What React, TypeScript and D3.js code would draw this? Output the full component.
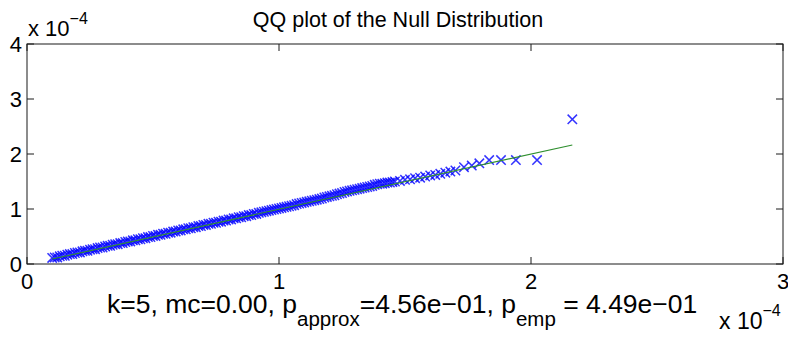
import { useEffect, useRef } from 'react'
import * as d3 from 'd3'

// theoretical quantiles (x 1e-4) and sample quantiles (x 1e-4)
const qTheory = [
  0.10, 0.11, 0.12, 0.13, 0.14, 0.15, 0.16, 0.17, 0.18, 0.19,
  0.20, 0.21, 0.22, 0.23, 0.24, 0.25, 0.26, 0.27, 0.28, 0.29,
  0.30, 0.31, 0.32, 0.33, 0.34, 0.35, 0.36, 0.37, 0.38, 0.39,
  0.40, 0.41, 0.42, 0.43, 0.44, 0.45, 0.46, 0.47, 0.48, 0.49,
  0.50, 0.51, 0.52, 0.53, 0.54, 0.55, 0.56, 0.57, 0.58, 0.59,
  0.60, 0.61, 0.62, 0.63, 0.64, 0.65, 0.66, 0.67, 0.68, 0.69,
  0.70, 0.71, 0.72, 0.73, 0.74, 0.75, 0.76, 0.77, 0.78, 0.79,
  0.80, 0.81, 0.82, 0.83, 0.84, 0.85, 0.86, 0.87, 0.88, 0.89,
  0.90, 0.91, 0.92, 0.93, 0.94, 0.95, 0.96, 0.97, 0.98, 0.99,
  1.00, 1.01, 1.02, 1.03, 1.04, 1.05, 1.06, 1.07, 1.08, 1.09,
  1.10, 1.11, 1.12, 1.13, 1.14, 1.15, 1.16, 1.17, 1.18, 1.19,
  1.20, 1.21, 1.22, 1.23, 1.24, 1.25, 1.26, 1.27, 1.28, 1.29,
  1.30, 1.31, 1.32, 1.33, 1.34, 1.35, 1.36, 1.37, 1.38, 1.39,
  1.40, 1.41, 1.42, 1.43, 1.44, 1.45, 1.46,
  1.48, 1.50, 1.52, 1.54, 1.56, 1.58, 1.60, 1.62, 1.64, 1.66,
  1.68, 1.70, 1.734, 1.765, 1.795, 1.834, 1.881, 1.940, 2.024, 2.164,
]
const qSample = [
  0.11, 0.12, 0.12, 0.14, 0.15, 0.15, 0.17, 0.18, 0.18, 0.20,
  0.21, 0.21, 0.23, 0.24, 0.24, 0.26, 0.27, 0.27, 0.29, 0.30,
  0.30, 0.32, 0.33, 0.33, 0.35, 0.36, 0.36, 0.38, 0.38, 0.40,
  0.41, 0.41, 0.43, 0.43, 0.45, 0.45, 0.47, 0.47, 0.49, 0.49,
  0.51, 0.51, 0.53, 0.53, 0.55, 0.55, 0.57, 0.57, 0.59, 0.59,
  0.61, 0.61, 0.63, 0.63, 0.65, 0.65, 0.67, 0.67, 0.69, 0.69,
  0.71, 0.71, 0.73, 0.73, 0.75, 0.75, 0.77, 0.77, 0.79, 0.79,
  0.81, 0.81, 0.83, 0.83, 0.85, 0.85, 0.87, 0.87, 0.89, 0.89,
  0.91, 0.91, 0.93, 0.94, 0.95, 0.96, 0.97, 0.98, 0.99, 1.00,
  1.01, 1.02, 1.03, 1.04, 1.05, 1.06, 1.07, 1.09, 1.10, 1.11,
  1.12, 1.13, 1.14, 1.15, 1.16, 1.17, 1.18, 1.19, 1.21, 1.22,
  1.23, 1.24, 1.25, 1.27, 1.28, 1.29, 1.31, 1.32, 1.33, 1.34,
  1.35, 1.36, 1.37, 1.38, 1.39, 1.40, 1.41, 1.42, 1.44, 1.45,
  1.46, 1.46, 1.47, 1.48, 1.48, 1.49, 1.50,
  1.51, 1.53, 1.54, 1.56, 1.57, 1.59, 1.61, 1.62, 1.64, 1.66,
  1.68, 1.70, 1.76, 1.79, 1.83, 1.89, 1.89, 1.89, 1.89, 2.63,
]
// reference line (x 1e-4)
const fitX = [0.10, 2.164]
const fitY = [0.09, 2.164]

const xTicks = [0, 1, 2, 3]
const yTicks = [0, 1, 2, 3, 4]

const W = 788
const H = 339
const BOX = { l: 27, r: 783, t: 44, b: 264 }
const FONT = '"Liberation Sans", Arial, Helvetica, sans-serif'

export default function App() {
  const svgRef = useRef<SVGSVGElement>(null)

  useEffect(() => {
    const svg = d3.select(svgRef.current)
    svg.selectAll('*').remove()
    svg.attr('width', W).attr('height', H)
    svg.append('rect').attr('width', W).attr('height', H).attr('fill', '#fff')

    const xSc = d3.scaleLinear().domain([0, 3]).range([BOX.l, BOX.r])
    const ySc = d3.scaleLinear().domain([0, 4]).range([BOX.b, BOX.t])

    // markers
    const pts = qTheory.map((x, i) => ({ x, y: qSample[i] }))
    const m = svg.append('g').attr('stroke', '#0000ff').attr('stroke-width', 1.5).attr('stroke-opacity', 0.8)
    const s = 4.7
    pts.forEach((p) => {
      const cx = xSc(p.x), cy = ySc(p.y)
      m.append('path').attr('d', `M${cx - s},${cy - s}L${cx + s},${cy + s}M${cx - s},${cy + s}L${cx + s},${cy - s}`)
    })

    // fitted line
    const line = d3.line<number>().x((d) => xSc(d)).y((_, i) => ySc(fitY[i]))
    svg.append('path').datum(fitX).attr('d', line).attr('fill', 'none').attr('stroke', '#2f8f2f').attr('stroke-width', 1.1)

    // box + ticks
    const ax = svg.append('g').attr('stroke', '#1a1a1a').attr('stroke-width', 1)
    ax.append('rect').attr('x', BOX.l).attr('y', BOX.t).attr('width', BOX.r - BOX.l).attr('height', BOX.b - BOX.t).attr('fill', 'none')
    const tl = 7
    xTicks.forEach((t) => {
      const x = xSc(t)
      ax.append('line').attr('x1', x).attr('x2', x).attr('y1', BOX.b).attr('y2', BOX.b - tl)
      ax.append('line').attr('x1', x).attr('x2', x).attr('y1', BOX.t).attr('y2', BOX.t + tl)
    })
    yTicks.forEach((t) => {
      const y = ySc(t)
      ax.append('line').attr('x1', BOX.l).attr('x2', BOX.l + tl).attr('y1', y).attr('y2', y)
      ax.append('line').attr('x1', BOX.r).attr('x2', BOX.r - tl).attr('y1', y).attr('y2', y)
    })

    const txt = svg.append('g').attr('font-family', FONT).attr('fill', '#000')
    xTicks.forEach((t) => {
      txt.append('text').attr('x', xSc(t)).attr('y', 289).attr('text-anchor', 'middle').attr('font-size', 22).text(String(t))
    })
    yTicks.forEach((t) => {
      txt.append('text').attr('x', 22).attr('y', ySc(t) + 8).attr('text-anchor', 'end').attr('font-size', 22).text(String(t))
    })

    // exponent labels
    const e1 = txt.append('text').attr('x', 28).attr('y', 36).attr('font-size', 22)
    e1.append('tspan').text('x 10')
    e1.append('tspan').attr('dy', -12).attr('font-size', 16).text('−4')
    const e2 = txt.append('text').attr('x', 719).attr('y', 329).attr('font-size', 23)
    e2.append('tspan').text('x 10')
    e2.append('tspan').attr('dy', -13).attr('font-size', 16).text('−4')

    // title
    txt.append('text').attr('x', 398).attr('y', 27).attr('text-anchor', 'middle').attr('font-size', 21.5).text('QQ plot of the Null Distribution')

    // xlabel
    const xl = txt.append('text').attr('x', 107).attr('y', 313).attr('font-size', 26.5)
    xl.append('tspan').text('k=5, mc=0.00, p')
    xl.append('tspan').attr('dy', 13).attr('font-size', 20.5).text('approx')
    xl.append('tspan').attr('dy', -13).text('=4.56e−01, p')
    xl.append('tspan').attr('dy', 13).attr('font-size', 20.5).text('emp')
    xl.append('tspan').attr('dy', -13).text(' = 4.49e−01')
  }, [])

  return (
    <div style={{ position: 'absolute', left: 0, top: 0 }}>
      <svg ref={svgRef} style={{ display: 'block' }} />
    </div>
  )
}
